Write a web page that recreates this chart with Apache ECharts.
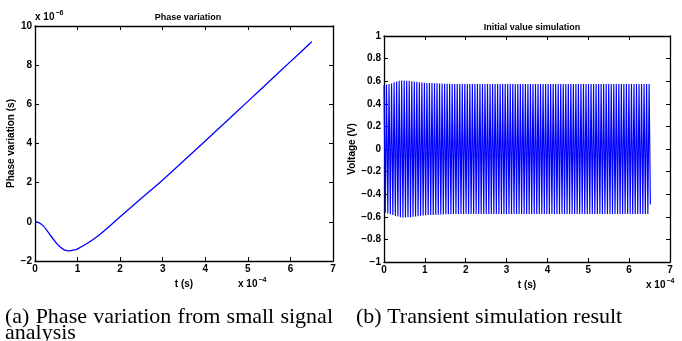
<!DOCTYPE html>
<html>
<head>
<meta charset="utf-8">
<script src="https://cdn.jsdelivr.net/npm/echarts@6/dist/echarts.min.js"></script>
<style>html,body{margin:0;padding:0;background:#fff;}#c{width:682px;height:341px;}</style>
</head>
<body>
<div id="c"></div>
<script>
// ---- Data (x in units of 1e-4 s) ----
const phaseT = [0,0.1,0.2,0.3,0.4,0.5,0.6,0.7,0.8,0.9,1.0,1.25,1.5,1.75,2.0,2.5,3.0,3.5,4.0,4.5,5.0,5.5,6.0,6.5];
const phaseV = [0,-0.05,-0.22,-0.5,-0.8,-1.08,-1.3,-1.44,-1.48,-1.45,-1.38,-1.07,-0.68,-0.22,0.26,1.2,2.14,3.13,4.13,5.14,6.15,7.17,8.18,9.2]; // x 1e-6 s

// transient: peak values of each cycle (upper and lower), period
const cyclePeriod = 0.0618;
const upperPeaks = [
0.565,0.57,0.575,0.58,0.59,0.598,0.603,0.606,0.606,0.605,
0.603,0.6,0.597,0.594,0.591,0.589,0.587,0.585,0.584,0.583,
0.582,0.581,0.58,0.579,0.578,0.577,0.577,0.576,0.576,0.576,
0.576,0.576,0.576,0.576,0.576,0.576,0.576,0.576,0.576,0.576,
0.576,0.576,0.576,0.576,0.576,0.576,0.576,0.576,0.576,0.576,
0.576,0.576,0.576,0.576,0.576,0.576,0.576,0.576,0.576,0.576,
0.576,0.576,0.576,0.576,0.576,0.576,0.576,0.576,0.576,0.576,
0.576,0.576,0.576,0.576,0.576,0.576,0.576,0.576,0.576,0.576,
0.576,0.576,0.576,0.576,0.576,0.576,0.576,0.576,0.576,0.576,
0.576,0.576,0.576,0.576,0.576,0.576,0.576,0.576,0.576,0.576,
0.576,0.576,0.576,0.576,0.576,0.576];
const lowerPeaks = [
-0.565,-0.57,-0.578,-0.585,-0.592,-0.598,-0.603,-0.606,-0.606,-0.605,
-0.603,-0.6,-0.597,-0.594,-0.591,-0.589,-0.587,-0.585,-0.584,-0.583,
-0.582,-0.581,-0.58,-0.579,-0.578,-0.577,-0.577,-0.576,-0.576,-0.576,
-0.576,-0.576,-0.576,-0.576,-0.576,-0.576,-0.576,-0.576,-0.576,-0.576,
-0.576,-0.576,-0.576,-0.576,-0.576,-0.576,-0.576,-0.576,-0.576,-0.576,
-0.576,-0.576,-0.576,-0.576,-0.576,-0.576,-0.576,-0.576,-0.576,-0.576,
-0.576,-0.576,-0.576,-0.576,-0.576,-0.576,-0.576,-0.576,-0.576,-0.576,
-0.576,-0.576,-0.576,-0.576,-0.576,-0.576,-0.576,-0.576,-0.576,-0.576,
-0.576,-0.576,-0.576,-0.576,-0.576,-0.576,-0.576,-0.576,-0.576,-0.576,
-0.576,-0.576,-0.576,-0.576,-0.576,-0.576,-0.576,-0.576,-0.576,-0.576,
-0.576,-0.576,-0.576,-0.576,-0.576,-0.49];

const captionA1 = ['(a)','Phase','variation','from','small','signal'];
const captionA2 = 'analysis';
const captionB = '(b) Transient simulation result';

// ---- Build series data ----
const phaseData = phaseT.map((t,i)=>[t, phaseV[i]]);
const transData = [];
for (let i=0;i<upperPeaks.length;i++){
  transData.push([i*cyclePeriod, upperPeaks[i]]);
  transData.push([i*cyclePeriod + cyclePeriod/2, lowerPeaks[i]]);
}

const FONT = 'Liberation Sans';
const SERIF = '22px "Liberation Serif"';
const minus = s => String(s).replace('-', '\u2212');
const lbl = (extra) => Object.assign({color:'#000', fontSize:10, fontWeight:'bold', fontFamily:FONT}, extra||{});
const line = {show:true, onZero:false, lineStyle:{color:'#000', width:1.3}};
const tick = {show:true, inside:true, length:4, lineStyle:{color:'#000', width:1}};

function xAx(grid, pos, show){
  return {type:'value', gridIndex:grid, position:pos, min:0, max:7, interval:1,
    axisLine:line, axisTick:tick, splitLine:{show:false},
    axisLabel: show ? lbl({margin:3, formatter:v=>String(v)}) : {show:false}};
}
function yAx(grid, pos, show, min, max, iv, fmt, extra){
  return Object.assign({type:'value', gridIndex:grid, position:pos, min:min, max:max, interval:iv,
    axisLine:line, axisTick:tick, splitLine:{show:false},
    axisLabel: show ? lbl({margin:3, formatter:fmt}) : {show:false}}, extra||{});
}

// justify caption (a) first line across subfigure width
const cv = document.createElement('canvas').getContext('2d');
cv.font = SERIF;
const capLeft = 5, capRight = 333;
const wordW = captionA1.map(w=>cv.measureText(w).width);
const totalW = wordW.reduce((a,b)=>a+b,0);
const gap = (capRight-capLeft-totalW)/(captionA1.length-1);
const capGraphics = [];
let cx = capLeft;
captionA1.forEach((w,i)=>{
  capGraphics.push({type:'text', x:cx, y:306, style:{text:w, font:SERIF, fill:'#000'}});
  cx += wordW[i] + gap;
});

const chart = echarts.init(document.getElementById('c'), null, {renderer:'canvas'});
chart.setOption({
  animation:false,
  backgroundColor:'#fff',
  grid:[
    {left:35, top:26, width:298, height:235},
    {left:384, top:36, width:286, height:226}
  ],
  title:[
    {text:'Phase variation', left:183, top:8, textAlign:'center',
      textStyle:{fontSize:9, fontWeight:'bold', fontFamily:FONT, color:'#000'}},
    {text:'Initial value simulation', left:527, top:18, textAlign:'center',
      textStyle:{fontSize:9, fontWeight:'bold', fontFamily:FONT, color:'#000'}}
  ],
  xAxis:[
    Object.assign(xAx(0,'bottom',true), {name:'t (s)', nameLocation:'middle', nameGap:15,
      nameTextStyle:lbl()}),
    xAx(0,'top',false),
    Object.assign(xAx(1,'bottom',true), {name:'t (s)', nameLocation:'middle', nameGap:15,
      nameTextStyle:lbl()}),
    xAx(1,'top',false)
  ],
  yAxis:[
    yAx(0,'left',true,-2,10,2,v=>minus(v),{name:'Phase variation (s)', nameLocation:'middle', nameGap:14, nameTextStyle:lbl()}),
    yAx(0,'right',false,-2,10,2),
    yAx(1,'left',true,-1,1,0.2,v=>{const r=Math.round(v*10)/10; return r===0?'0':minus(r);},
      {name:'Voltage (V)', nameLocation:'middle', nameGap:27, nameTextStyle:lbl()}),
    yAx(1,'right',false,-1,1,0.2)
  ],
  series:[
    {type:'line', xAxisIndex:0, yAxisIndex:0, data:phaseData, smooth:0.4, showSymbol:false,
      lineStyle:{color:'#0000ff', width:1.3}},
    {type:'line', xAxisIndex:2, yAxisIndex:2, data:transData, showSymbol:false, sampling:null,
      lineStyle:{color:'#0000ff', width:1.15}}
  ],
  graphic:[
    {type:'text', left:35, top:10, style:{text:'x 10{s|\u22126}', rich:{s:{fontSize:7, fontWeight:'bold', fontFamily:FONT, padding:[0,0,7,1]}},
      font:'bold 10px '+FONT, fill:'#000'}},
    {type:'text', left:238, top:277, style:{text:'x 10{s|\u22124}', rich:{s:{fontSize:7, fontWeight:'bold', fontFamily:FONT, padding:[0,0,7,1]}},
      font:'bold 10px '+FONT, fill:'#000'}},
    {type:'text', left:646, top:278, style:{text:'x 10{s|\u22124}', rich:{s:{fontSize:7, fontWeight:'bold', fontFamily:FONT, padding:[0,0,7,1]}},
      font:'bold 10px '+FONT, fill:'#000'}},
    ...capGraphics,
    {type:'text', x:5, y:322, style:{text:captionA2, font:SERIF, fill:'#000'}},
    {type:'text', x:356, y:306, style:{text:captionB, font:SERIF, fill:'#000'}}
  ]
});
</script>
</body>
</html>
